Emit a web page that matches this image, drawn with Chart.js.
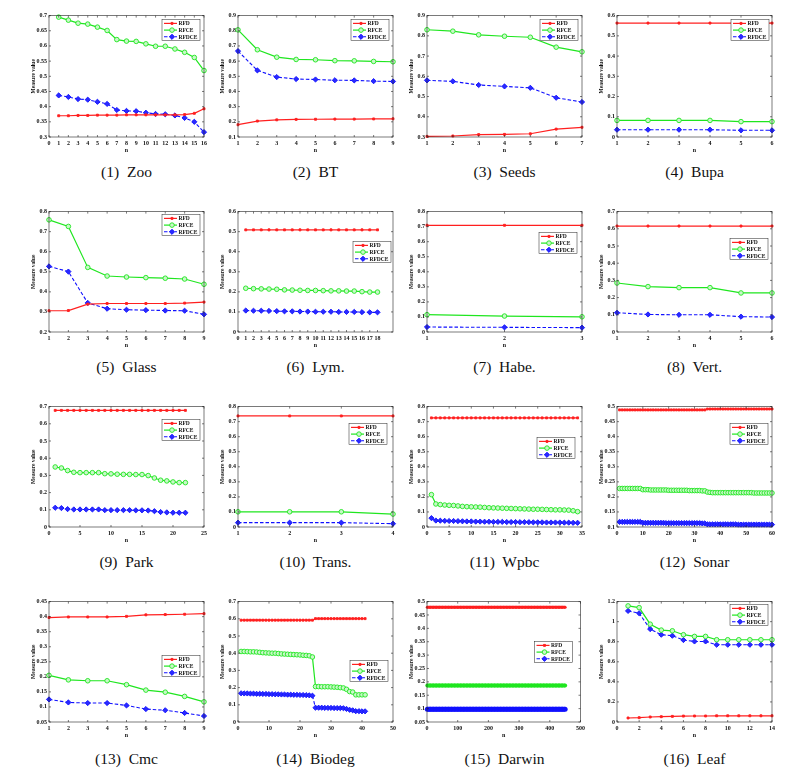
<!DOCTYPE html>
<html>
<head>
<meta charset="utf-8">
<script src="https://cdn.jsdelivr.net/npm/chart.js@4.4.1/dist/chart.umd.min.js"></script>
<style>
  html, body { margin: 0; padding: 0; background: #fff; }
  #page { position: relative; width: 806px; height: 776px; overflow: hidden; }
  canvas { position: absolute; }
  .cap { position: absolute; width: 180px; text-align: center; font-family: 'Liberation Serif', 'Times New Roman', serif; font-size: 15.5px; color: #111; white-space: pre; }
</style>
</head>
<body>
<div id="page"></div>
<script>
// ---- data ----
const zooRFD = [0.370, 0.370, 0.371, 0.371, 0.372, 0.372, 0.372, 0.373, 0.373, 0.373, 0.373, 0.373, 0.373, 0.374, 0.378, 0.393];
const zooRFCE = [0.695, 0.685, 0.675, 0.672, 0.662, 0.651, 0.621, 0.616, 0.615, 0.607, 0.599, 0.599, 0.590, 0.579, 0.562, 0.519];
const zooRFDCE = [0.437, 0.432, 0.425, 0.423, 0.416, 0.409, 0.389, 0.386, 0.385, 0.380, 0.376, 0.375, 0.371, 0.363, 0.350, 0.316];

const btRFD = [0.181, 0.205, 0.213, 0.216, 0.217, 0.218, 0.218, 0.219, 0.220];
const btRFCE = [0.806, 0.675, 0.626, 0.611, 0.609, 0.603, 0.602, 0.598, 0.596];
const btRFDCE = [0.666, 0.539, 0.495, 0.482, 0.479, 0.474, 0.473, 0.468, 0.466];

const seedsRFD = [0.303, 0.305, 0.312, 0.313, 0.316, 0.339, 0.348];
const seedsRFCE = [0.830, 0.823, 0.805, 0.798, 0.793, 0.744, 0.721];
const seedsRFDCE = [0.580, 0.575, 0.557, 0.550, 0.543, 0.494, 0.473];

const bupaRFD = [0.563, 0.563, 0.563, 0.563, 0.563, 0.563];
const bupaRFCE = [0.082, 0.082, 0.082, 0.082, 0.076, 0.076];
const bupaRFDCE = [0.036, 0.036, 0.036, 0.036, 0.033, 0.033];

const glassRFD = [0.306, 0.307, 0.339, 0.342, 0.342, 0.342, 0.342, 0.344, 0.349];
const glassRFCE = [0.759, 0.726, 0.522, 0.479, 0.474, 0.471, 0.468, 0.464, 0.438];
const glassRFDCE = [0.527, 0.501, 0.345, 0.316, 0.311, 0.309, 0.307, 0.306, 0.288];

const lymRFD = [0.509, 0.509, 0.509, 0.509, 0.509, 0.509, 0.509, 0.509, 0.509, 0.509, 0.509, 0.509, 0.509, 0.509, 0.509, 0.509, 0.509, 0.509];
const lymRFCE = [0.218, 0.216, 0.215, 0.214, 0.213, 0.210, 0.209, 0.208, 0.207, 0.207, 0.206, 0.205, 0.205, 0.204, 0.204, 0.201, 0.199, 0.199];
const lymRFDCE = [0.107, 0.106, 0.106, 0.105, 0.104, 0.103, 0.103, 0.102, 0.102, 0.101, 0.101, 0.101, 0.100, 0.100, 0.100, 0.099, 0.098, 0.098];

const habeRFD = [0.709, 0.709, 0.709];
const habeRFCE = [0.115, 0.106, 0.101];
const habeRFDCE = [0.033, 0.031, 0.029];

const vertRFD = [0.616, 0.616, 0.616, 0.616, 0.616, 0.616];
const vertRFCE = [0.285, 0.264, 0.258, 0.258, 0.227, 0.227];
const vertRFDCE = [0.112, 0.102, 0.100, 0.100, 0.089, 0.087];

const parkRFD = [0.678, 0.678, 0.678, 0.678, 0.678, 0.678, 0.678, 0.678, 0.678, 0.678, 0.678, 0.678, 0.678, 0.678, 0.678, 0.678, 0.678, 0.678, 0.678, 0.678, 0.678, 0.678];
const parkRFCE = [0.349, 0.343, 0.328, 0.318, 0.316, 0.316, 0.316, 0.316, 0.310, 0.309, 0.307, 0.306, 0.306, 0.305, 0.305, 0.299, 0.285, 0.272, 0.268, 0.262, 0.258, 0.258];
const parkRFDCE = [0.112, 0.110, 0.104, 0.102, 0.102, 0.102, 0.102, 0.102, 0.098, 0.098, 0.098, 0.098, 0.098, 0.097, 0.097, 0.096, 0.092, 0.087, 0.085, 0.083, 0.083, 0.083];

const transRFD = [0.738, 0.738, 0.738, 0.738];
const transRFCE = [0.101, 0.101, 0.101, 0.086];
const transRFDCE = [0.029, 0.029, 0.029, 0.022];

const wpbcRFD = [0.725, 0.725, 0.725, 0.725, 0.725, 0.725, 0.725, 0.725, 0.725, 0.725, 0.725, 0.725, 0.725, 0.725, 0.725, 0.725, 0.725, 0.725, 0.725, 0.725, 0.725, 0.725, 0.725, 0.725, 0.725, 0.725, 0.725, 0.725, 0.725, 0.725, 0.725, 0.725, 0.725, 0.725];
const wpbcRFCE = [0.215, 0.153, 0.149, 0.146, 0.144, 0.143, 0.140, 0.137, 0.135, 0.134, 0.133, 0.132, 0.130, 0.128, 0.127, 0.126, 0.125, 0.124, 0.123, 0.122, 0.121, 0.120, 0.119, 0.118, 0.118, 0.117, 0.116, 0.115, 0.114, 0.114, 0.113, 0.112, 0.108, 0.102];
const wpbcRFDCE = [0.059, 0.043, 0.042, 0.041, 0.040, 0.040, 0.039, 0.038, 0.037, 0.037, 0.036, 0.036, 0.035, 0.035, 0.034, 0.034, 0.034, 0.033, 0.033, 0.033, 0.032, 0.032, 0.032, 0.031, 0.031, 0.031, 0.030, 0.030, 0.030, 0.030, 0.029, 0.029, 0.028, 0.028];

const sonarRFD = [0.489, 0.489, 0.489, 0.489, 0.489, 0.489, 0.489, 0.489, 0.489, 0.489, 0.489, 0.489, 0.489, 0.489, 0.489, 0.489, 0.489, 0.489, 0.489, 0.489, 0.489, 0.489, 0.489, 0.489, 0.489, 0.489, 0.489, 0.489, 0.489, 0.489, 0.489, 0.489, 0.489, 0.489,
  0.492, 0.492, 0.492, 0.492, 0.492, 0.492, 0.492, 0.492, 0.492, 0.492, 0.492, 0.492, 0.492, 0.492, 0.492, 0.492, 0.492, 0.492, 0.492, 0.492, 0.492, 0.492, 0.492, 0.492, 0.492, 0.492];
const sonarRFCE = [0.228, 0.228, 0.228, 0.228, 0.228, 0.228, 0.228, 0.228, 0.228, 0.224, 0.224, 0.224, 0.223, 0.223, 0.223, 0.223, 0.223, 0.223, 0.223, 0.222, 0.222, 0.222, 0.222, 0.222, 0.222, 0.222, 0.222, 0.221, 0.221, 0.221, 0.221, 0.221, 0.220, 0.220,
  0.216, 0.215, 0.214, 0.214, 0.214, 0.214, 0.214, 0.214, 0.214, 0.214, 0.214, 0.214, 0.214, 0.214, 0.214, 0.214, 0.214, 0.214, 0.213, 0.213, 0.213, 0.213, 0.213, 0.213, 0.213, 0.213];
const sonarRFDCE = [0.117, 0.117, 0.117, 0.117, 0.117, 0.117, 0.117, 0.117, 0.117, 0.114, 0.114, 0.114, 0.114, 0.114, 0.114, 0.114, 0.114, 0.114, 0.113, 0.113, 0.113, 0.113, 0.113, 0.113, 0.113, 0.113, 0.113, 0.113, 0.113, 0.113, 0.113, 0.113, 0.112, 0.112,
  0.109, 0.109, 0.109, 0.109, 0.109, 0.109, 0.109, 0.109, 0.109, 0.109, 0.109, 0.109, 0.108, 0.108, 0.108, 0.108, 0.108, 0.108, 0.108, 0.108, 0.108, 0.108, 0.108, 0.108, 0.108, 0.108];

const cmcRFD = [0.397, 0.399, 0.399, 0.399, 0.401, 0.406, 0.407, 0.408, 0.410];
const cmcRFCE = [0.205, 0.190, 0.187, 0.187, 0.174, 0.156, 0.149, 0.135, 0.117];
const cmcRFDCE = [0.125, 0.115, 0.113, 0.113, 0.105, 0.093, 0.089, 0.080, 0.070];

const biodegRFD = [0.592, 0.592, 0.592, 0.592, 0.592, 0.592, 0.592, 0.592, 0.592, 0.592, 0.592, 0.592, 0.592, 0.592, 0.592, 0.592, 0.592, 0.592, 0.592, 0.592, 0.592, 0.592, 0.592, 0.592,
  0.601, 0.601, 0.601, 0.601, 0.601, 0.601, 0.601, 0.601, 0.601, 0.601, 0.601, 0.601, 0.601, 0.601, 0.601, 0.601, 0.601];
const biodegRFCE = [0.410, 0.410, 0.409, 0.408, 0.408, 0.407, 0.405, 0.403, 0.402, 0.401, 0.400, 0.400, 0.398, 0.396, 0.395, 0.394, 0.393, 0.392, 0.391, 0.390, 0.388, 0.387, 0.385, 0.378,
  0.206, 0.206, 0.205, 0.205, 0.205, 0.204, 0.203, 0.202, 0.200, 0.198, 0.190, 0.177, 0.174, 0.158, 0.158, 0.158, 0.158];
const biodegRFDCE = [0.167, 0.166, 0.166, 0.165, 0.165, 0.164, 0.164, 0.163, 0.163, 0.162, 0.162, 0.161, 0.161, 0.160, 0.160, 0.159, 0.159, 0.158, 0.158, 0.157, 0.157, 0.156, 0.155, 0.153,
  0.083, 0.083, 0.083, 0.082, 0.082, 0.082, 0.081, 0.081, 0.081, 0.080, 0.076, 0.071, 0.068, 0.063, 0.063, 0.062, 0.062];

const darwinN = [1, 10, 20, 30, 40, 50, 60, 70, 80, 90, 100, 110, 120, 130, 140, 150, 160, 170, 180, 190, 200, 210, 220, 230, 240, 250, 260, 270, 280, 290, 300, 310, 320, 330, 340, 350, 360, 370, 380, 390, 400, 410, 420, 430, 440, 450];
const darwinRFD = [0.479, 0.479, 0.479, 0.479, 0.479, 0.479, 0.479, 0.479, 0.479, 0.479, 0.479, 0.479, 0.479, 0.479, 0.479, 0.479, 0.479, 0.479, 0.479, 0.479, 0.479, 0.479, 0.479, 0.479, 0.479, 0.479, 0.479, 0.479, 0.479, 0.479, 0.479, 0.479, 0.479, 0.479, 0.479, 0.479, 0.479, 0.479, 0.479, 0.479, 0.479, 0.479, 0.479, 0.479, 0.479, 0.479];
const darwinRFCE = [0.186, 0.186, 0.186, 0.186, 0.186, 0.186, 0.186, 0.186, 0.186, 0.186, 0.186, 0.186, 0.186, 0.186, 0.186, 0.186, 0.186, 0.186, 0.186, 0.186, 0.186, 0.186, 0.186, 0.186, 0.186, 0.186, 0.186, 0.186, 0.186, 0.186, 0.186, 0.186, 0.186, 0.186, 0.186, 0.186, 0.186, 0.186, 0.186, 0.186, 0.186, 0.186, 0.186, 0.186, 0.186, 0.186];
const darwinRFDCE = [0.098, 0.098, 0.098, 0.098, 0.098, 0.098, 0.098, 0.098, 0.098, 0.098, 0.098, 0.098, 0.098, 0.098, 0.098, 0.098, 0.098, 0.098, 0.098, 0.098, 0.098, 0.098, 0.098, 0.098, 0.098, 0.098, 0.098, 0.098, 0.098, 0.098, 0.098, 0.098, 0.098, 0.098, 0.098, 0.098, 0.098, 0.098, 0.098, 0.098, 0.098, 0.098, 0.098, 0.098, 0.098, 0.098];

const leafRFD = [0.040, 0.043, 0.050, 0.053, 0.056, 0.059, 0.060, 0.060, 0.062, 0.062, 0.062, 0.062, 0.062, 0.062];
const leafRFCE = [1.157, 1.140, 0.975, 0.916, 0.909, 0.870, 0.853, 0.853, 0.820, 0.820, 0.820, 0.820, 0.820, 0.820];
const leafRFDCE = [1.107, 1.084, 0.926, 0.870, 0.860, 0.817, 0.803, 0.803, 0.770, 0.770, 0.770, 0.770, 0.770, 0.770];

// ---- axis ticks ----
const xTicks = [
  [0, 1, 2, 3, 4, 5, 6, 7, 8, 9, 10, 11, 12, 13, 14, 15, 16],
  [1, 2, 3, 4, 5, 6, 7, 8, 9],
  [1, 2, 3, 4, 5, 6, 7],
  [1, 2, 3, 4, 5, 6],
  [1, 2, 3, 4, 5, 6, 7, 8, 9],
  [0, 1, 2, 3, 4, 5, 6, 7, 8, 9, 10, 11, 12, 13, 14, 15, 16, 17, 18],
  [1, 2, 3],
  [1, 2, 3, 4, 5, 6],
  [0, 5, 10, 15, 20, 25],
  [1, 2, 3, 4],
  [0, 5, 10, 15, 20, 25, 30, 35],
  [0, 10, 20, 30, 40, 50, 60],
  [1, 2, 3, 4, 5, 6, 7, 8, 9],
  [0, 10, 20, 30, 40, 50],
  [0, 100, 200, 300, 400, 500],
  [0, 2, 4, 6, 8, 10, 12, 14]
];
const xRanges = [[0, 16], [1, 9], [1, 7], [1, 6], [1, 9], [0, 20], [1, 3], [1, 6], [0, 25], [1, 4], [0, 35], [0, 60], [1, 9], [0, 50], [0, 500], [0, 14]];
const yTicks = [
  [0.3, 0.35, 0.4, 0.45, 0.5, 0.55, 0.6, 0.65, 0.7],
  [0.1, 0.2, 0.3, 0.4, 0.5, 0.6, 0.7, 0.8, 0.9],
  [0.3, 0.4, 0.5, 0.6, 0.7, 0.8, 0.9],
  [0, 0.1, 0.2, 0.3, 0.4, 0.5, 0.6],
  [0.2, 0.3, 0.4, 0.5, 0.6, 0.7, 0.8],
  [0, 0.1, 0.2, 0.3, 0.4, 0.5, 0.6],
  [0, 0.1, 0.2, 0.3, 0.4, 0.5, 0.6, 0.7, 0.8],
  [0, 0.1, 0.2, 0.3, 0.4, 0.5, 0.6, 0.7],
  [0, 0.1, 0.2, 0.3, 0.4, 0.5, 0.6, 0.7],
  [0, 0.1, 0.2, 0.3, 0.4, 0.5, 0.6, 0.7, 0.8],
  [0, 0.1, 0.2, 0.3, 0.4, 0.5, 0.6, 0.7, 0.8],
  [0.1, 0.15, 0.2, 0.25, 0.3, 0.35, 0.4, 0.45, 0.5],
  [0.05, 0.1, 0.15, 0.2, 0.25, 0.3, 0.35, 0.4, 0.45],
  [0, 0.1, 0.2, 0.3, 0.4, 0.5, 0.6, 0.7],
  [0.05, 0.1, 0.15, 0.2, 0.25, 0.3, 0.35, 0.4, 0.45, 0.5],
  [0, 0.2, 0.4, 0.6, 0.8, 1, 1.2]
];
const captions = ['(1)  Zoo', '(2)  BT', '(3)  Seeds', '(4)  Bupa', '(5)  Glass', '(6)  Lym.', '(7)  Habe.', '(8)  Vert.',
  '(9)  Park', '(10)  Trans.', '(11)  Wpbc', '(12)  Sonar', '(13)  Cmc', '(14)  Biodeg', '(15)  Darwin', '(16)  Leaf'];
const seriesNames = ['RFD', 'RFCE', 'RFDCE'];

const panelData = [
  [zooRFD, zooRFCE, zooRFDCE], [btRFD, btRFCE, btRFDCE], [seedsRFD, seedsRFCE, seedsRFDCE], [bupaRFD, bupaRFCE, bupaRFDCE],
  [glassRFD, glassRFCE, glassRFDCE], [lymRFD, lymRFCE, lymRFDCE], [habeRFD, habeRFCE, habeRFDCE], [vertRFD, vertRFCE, vertRFDCE],
  [parkRFD, parkRFCE, parkRFDCE], [transRFD, transRFCE, transRFDCE], [wpbcRFD, wpbcRFCE, wpbcRFDCE], [sonarRFD, sonarRFCE, sonarRFDCE],
  [cmcRFD, cmcRFCE, cmcRFDCE], [biodegRFD, biodegRFCE, biodegRFDCE], [darwinRFD, darwinRFCE, darwinRFDCE], [leafRFD, leafRFCE, leafRFDCE]
];

// ---- layout ----
const colLeft = [49, 238, 427, 617];
const rowTop = [15, 211, 406, 601];
const rowH = [122, 121, 121, 121];
const capY = [173, 368, 563, 760];
const plotW = 155;
// legend: [offset from plot top, inset from plot right]
const legendPos = [[4, 4], [4, 4], [4, 4], [4, 3], [3, 4], [30, 2], [21, 5], [27, 4], [13, 4], [17, 6], [31, 7], [17, 4], [54, 4], [59, 5], [40, 8], [3, 4]];

const FONT = "'Liberation Serif', 'Times New Roman', serif";
const styles = [
  { color: '#ff1f1f', width: 1.2, dash: [], point: 'rect', r: 1.4, fill: '#ff1f1f', bandW: 3 },
  { color: '#1fe61f', width: 1.2, dash: [], point: 'circle', r: 2.3, fill: '#c9f7c9', bandW: 4 },
  { color: '#1010ff', width: 1.1, dash: [3.5, 2], point: 'rectRot', r: 2.6, fill: '#2a2aff', bandW: 5 }
];

const frame = {
  id: 'frame',
  afterDatasetsDraw(chart) {
    const ctx = chart.ctx, a = chart.chartArea;
    ctx.save();
    ctx.strokeStyle = '#222';
    ctx.lineWidth = 0.6;
    ctx.strokeRect(a.left, a.top, a.right - a.left, a.bottom - a.top);
    const xs = chart.scales.x, ys = chart.scales.y;
    ctx.beginPath();
    xs.ticks.forEach(t => {
      const px = xs.getPixelForValue(t.value);
      ctx.moveTo(px, a.bottom); ctx.lineTo(px, a.bottom - 2);
      ctx.moveTo(px, a.top); ctx.lineTo(px, a.top + 2);
    });
    ys.ticks.forEach(t => {
      const py = ys.getPixelForValue(t.value);
      ctx.moveTo(a.left, py); ctx.lineTo(a.left + 2, py);
      ctx.moveTo(a.right, py); ctx.lineTo(a.right - 2, py);
    });
    ctx.stroke();

    // boxed legend
    const lp = chart.options.plugins.frame.legend;
    const w = 38, h = 21;
    const lx = a.right - lp[1] - w, ly = a.top + lp[0];
    ctx.fillStyle = '#fff';
    ctx.fillRect(lx, ly, w, h);
    ctx.lineWidth = 0.5;
    ctx.strokeStyle = '#222';
    ctx.strokeRect(lx, ly, w, h);
    ctx.font = 'bold 5.5px ' + FONT;
    ctx.textBaseline = 'middle';
    styles.forEach((s, i) => {
      const yy = ly + 3.8 + i * 6.7;
      ctx.strokeStyle = s.color;
      ctx.lineWidth = s.width;
      ctx.setLineDash(s.dash);
      ctx.beginPath(); ctx.moveTo(lx + 2, yy); ctx.lineTo(lx + 15, yy); ctx.stroke();
      ctx.setLineDash([]);
      ctx.fillStyle = s.fill;
      ctx.lineWidth = 0.9;
      Chart.helpers.drawPoint(ctx, { pointStyle: s.point, radius: s.r, rotation: 0, borderWidth: 0.9 }, lx + 10, yy);
      ctx.fillStyle = '#111';
      ctx.fillText(seriesNames[i], lx + 16.5, yy + 0.3);
    });
    ctx.restore();
  }
};

const page = document.getElementById('page');
const tickFmt = v => String(+Number(v).toFixed(2));

panelData.forEach((series, idx) => {
  const r = Math.floor(idx / 4), c = idx % 4;
  const left = colLeft[c] - 22, top = rowTop[r] - 5;
  const cw = 22 + plotW + 6, ch = 5 + rowH[r] + 21;
  const cv = document.createElement('canvas');
  cv.width = cw; cv.height = ch;
  cv.style.left = left + 'px'; cv.style.top = top + 'px';
  page.appendChild(cv);

  const cap = document.createElement('div');
  cap.className = 'cap';
  cap.textContent = captions[idx];
  cap.style.left = (colLeft[c] + plotW / 2 - 90) + 'px';
  cap.style.top = (capY[r] - 10) + 'px';
  page.appendChild(cap);

  const dense = idx === 14;
  const datasets = series.map((vals, k) => {
    const s = styles[k];
    return {
      label: seriesNames[k],
      data: vals.map((v, i) => ({ x: dense ? darwinN[i] : i + 1, y: v })),
      borderColor: s.color,
      backgroundColor: s.fill,
      borderWidth: dense ? s.bandW : s.width,
      borderDash: dense ? [] : s.dash,
      pointStyle: dense ? 'circle' : s.point,
      pointRadius: dense ? s.bandW / 2 : s.r,
      pointBorderWidth: dense ? 0 : 0.9,
      pointBorderColor: s.color,
      pointBackgroundColor: dense ? s.color : s.fill,
      tension: 0,
      clip: false
    };
  });

  const xt = xTicks[idx], yt = yTicks[idx];
  new Chart(cv.getContext('2d'), {
    type: 'line',
    data: { datasets },
    options: {
      responsive: false,
      animation: false,
      events: [],
      layout: { padding: { left: 0, top: 5, right: 6, bottom: 0 } },
      plugins: { legend: { display: false }, tooltip: { enabled: false }, frame: { legend: legendPos[idx] } },
      scales: {
        x: {
          type: 'linear',
          min: xRanges[idx][0], max: xRanges[idx][1],
          afterBuildTicks: s => { s.ticks = xt.map(v => ({ value: v })); },
          afterFit: s => { s.height = 21; },
          grid: { display: false, drawTicks: false },
          border: { display: false },
          ticks: { autoSkip: false, maxRotation: 0, padding: 3, color: '#111', font: { family: FONT, size: 6, weight: 'bold' }, callback: tickFmt },
          title: { display: true, text: 'n', color: '#111', padding: { top: 0, bottom: 4 }, font: { family: FONT, size: 6, weight: 'bold' } }
        },
        y: {
          min: yt[0], max: yt[yt.length - 1],
          afterBuildTicks: s => { s.ticks = yt.map(v => ({ value: v })); },
          afterFit: s => { s.width = 22; },
          grid: { display: false, drawTicks: false },
          border: { display: false },
          ticks: { autoSkip: false, padding: 2, color: '#111', font: { family: FONT, size: 6, weight: 'bold' }, callback: tickFmt },
          title: { display: true, text: 'Measure value', color: '#111', padding: { top: 3, bottom: 0 }, font: { family: FONT, size: 5.5, weight: 'bold' } }
        }
      }
    },
    plugins: [frame]
  });
});
</script>
</body>
</html>
